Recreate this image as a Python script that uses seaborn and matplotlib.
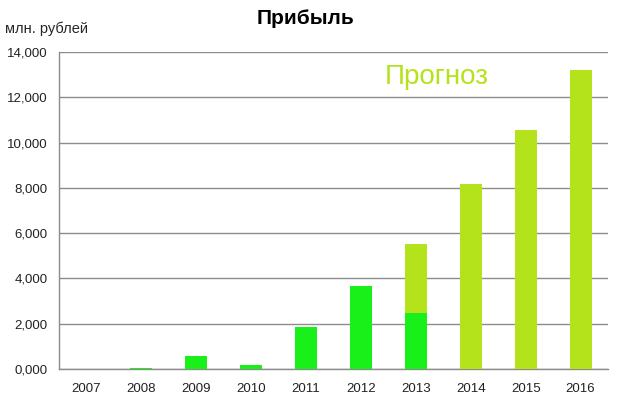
import pandas as pd
import matplotlib.pyplot as plt
import seaborn as sns
from matplotlib.ticker import FixedLocator

years = ['2007', '2008', '2009', '2010', '2011', '2012', '2013', '2014', '2015', '2016']
actual = [0, 60, 560, 180, 1870, 3660, 2460, 0, 0, 0]
forecast = [0, 0, 0, 0, 0, 0, 5520, 8170, 10560, 13200]
ytick_values = [0, 2000, 4000, 6000, 8000, 10000, 12000, 14000]
ytick_labels = ['0,000', '2,000', '4,000', '6,000', '8,000', '10,000', '12,000', '14,000']

green = '#19ef19'
lime = '#b5e31b'

sns.set_style("white")
plt.rcParams['font.family'] = ['Liberation Sans', 'DejaVu Sans']

df = pd.DataFrame({'year': years, 'actual': actual, 'forecast': forecast})

fig = plt.figure(figsize=(6.2, 3.99), dpi=100)
ax = fig.add_axes([59 / 620, 30 / 399, 549 / 620, 317 / 399])

# forecast drawn first, the actual part sits on top of it (2013)
sns.barplot(data=df, x='year', y='forecast', order=years, color=lime,
            width=0.4, saturation=1, linewidth=0, edgecolor='none', ax=ax, zorder=3)
sns.barplot(data=df, x='year', y='actual', order=years, color=green,
            width=0.4, saturation=1, linewidth=0, edgecolor='none', ax=ax, zorder=3)

ax.set_ylim(0, 14000)
ax.set_xlim(-0.5, 9.5)
ax.set_yticks(ytick_values)
ax.set_yticklabels(ytick_labels)
ax.set_xlabel('')
ax.set_ylabel('')
ax.yaxis.grid(True, color='#8c8c8c', linewidth=1, zorder=0)
ax.set_axisbelow(True)

for side in ['top', 'right']:
    ax.spines[side].set_visible(False)
for side in ['left', 'bottom']:
    ax.spines[side].set_color('#8c8c8c')
    ax.spines[side].set_linewidth(1)

ax.tick_params(axis='x', which='major', length=0, pad=10, labelsize=9.5, colors='#222222')
ax.xaxis.set_minor_locator(FixedLocator([i - 0.5 for i in range(len(years) + 1)]))
ax.tick_params(axis='x', which='minor', length=4, color='#8c8c8c', direction='out')
ax.tick_params(axis='y', length=5, color='#8c8c8c', direction='out', labelsize=9.5,
               pad=3, labelcolor='#222222')

fig.text(305 / 620, 1 - 18 / 399, 'Прибыль', ha='center', va='center',
         fontsize=15, fontweight='bold', color='black')
fig.text(5 / 620, 1 - 29 / 399, 'млн. рублей', ha='left', va='center', fontsize=10.5)
fig.text(385 / 620, 1 - 77 / 399, 'Прогноз', ha='left', va='center',
         fontsize=20, color=lime)

plt.savefig('out.png', dpi=100)
